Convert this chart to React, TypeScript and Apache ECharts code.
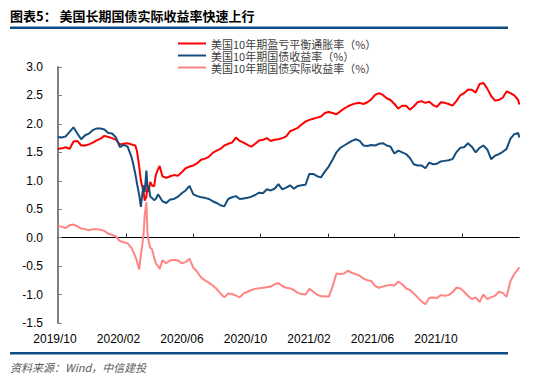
import React, { useEffect, useRef } from "react";
import * as echarts from "echarts";

const TITLE = "图表5： 美国长期国债实际收益率快速上行";
const SOURCE = "资料来源：Wind，中信建投";
const SERIES_NAMES = [
  "美国10年期盈亏平衡通胀率（%）",
  "美国10年期国债收益率（%）",
  "美国10年期国债实际收益率（%）",
];
const X_LABELS = ["2019/10", "2020/02", "2020/06", "2020/10", "2021/02", "2021/06", "2021/10", ""];
const TICK_DATES = ["2020-02-01", "2020-06-01", "2020-10-01", "2021-02-01", "2021-06-01", "2021-10-01"];
const X_MIN = "2019-10-01";
const X_MAX = "2022-01-13";

const DATES = [
  "2019-10-01", "2019-10-08", "2019-10-15", "2019-10-22", "2019-10-29", "2019-11-05", "2019-11-12", "2019-11-19",
  "2019-11-26", "2019-12-03", "2019-12-10", "2019-12-17", "2019-12-24", "2019-12-31", "2020-01-07", "2020-01-14",
  "2020-01-21", "2020-01-28", "2020-02-04", "2020-02-11", "2020-02-14", "2020-02-18", "2020-02-21", "2020-02-25",
  "2020-02-28", "2020-03-02", "2020-03-04", "2020-03-06", "2020-03-09", "2020-03-11", "2020-03-13", "2020-03-16",
  "2020-03-19", "2020-03-23", "2020-03-26", "2020-03-30", "2020-04-02", "2020-04-07", "2020-04-14", "2020-04-21",
  "2020-04-28", "2020-05-05", "2020-05-12", "2020-05-19", "2020-05-26", "2020-06-02", "2020-06-09", "2020-06-16",
  "2020-06-23", "2020-06-30", "2020-07-07", "2020-07-14", "2020-07-21", "2020-07-28", "2020-08-04", "2020-08-11",
  "2020-08-18", "2020-08-25", "2020-09-01", "2020-09-08", "2020-09-15", "2020-09-22", "2020-09-29", "2020-10-06",
  "2020-10-13", "2020-10-20", "2020-10-27", "2020-11-03", "2020-11-10", "2020-11-17", "2020-11-24", "2020-12-01",
  "2020-12-08", "2020-12-15", "2020-12-22", "2020-12-29", "2021-01-05", "2021-01-12", "2021-01-19", "2021-01-26",
  "2021-02-02", "2021-02-09", "2021-02-16", "2021-02-23", "2021-03-02", "2021-03-09", "2021-03-16", "2021-03-23",
  "2021-03-30", "2021-04-06", "2021-04-13", "2021-04-20", "2021-04-27", "2021-05-04", "2021-05-11", "2021-05-18",
  "2021-05-25", "2021-06-01", "2021-06-08", "2021-06-15", "2021-06-22", "2021-06-29", "2021-07-06", "2021-07-13",
  "2021-07-20", "2021-07-27", "2021-08-03", "2021-08-10", "2021-08-17", "2021-08-24", "2021-08-31", "2021-09-07",
  "2021-09-14", "2021-09-21", "2021-09-28", "2021-10-05", "2021-10-12", "2021-10-19", "2021-10-26", "2021-11-02",
  "2021-11-09", "2021-11-16", "2021-11-23", "2021-11-30", "2021-12-07", "2021-12-14", "2021-12-21", "2021-12-28",
  "2022-01-04", "2022-01-11", "2022-01-13",
];

const BREAKEVEN = [
  1.56, 1.57, 1.59, 1.56, 1.69, 1.70, 1.62, 1.62,
  1.64, 1.67, 1.71, 1.74, 1.79, 1.77, 1.75, 1.72,
  1.64, 1.65, 1.66, 1.64, 1.63, 1.62, 1.52, 1.25,
  1.00, 0.88, 0.80, 0.65, 0.72, 0.90, 0.80, 0.98,
  0.92, 0.90, 1.10, 1.20, 1.26, 1.08, 1.05, 1.08,
  1.10, 1.09, 1.15, 1.22, 1.25, 1.27, 1.31, 1.37,
  1.39, 1.42, 1.49, 1.53, 1.56, 1.62, 1.65, 1.67,
  1.76, 1.70, 1.67, 1.63, 1.60, 1.65, 1.71, 1.72,
  1.75, 1.70, 1.72, 1.73, 1.75, 1.78, 1.87, 1.90,
  1.93, 1.99, 2.04, 2.07, 2.09, 2.11, 2.13, 2.19,
  2.21, 2.19, 2.17, 2.22, 2.27, 2.31, 2.34, 2.36,
  2.37, 2.35, 2.38, 2.43, 2.51, 2.54, 2.51, 2.45,
  2.42, 2.35, 2.27, 2.32, 2.32, 2.25, 2.31, 2.38,
  2.40, 2.37, 2.39, 2.33, 2.30, 2.38, 2.37, 2.35,
  2.32, 2.40, 2.50, 2.54, 2.60, 2.60, 2.55, 2.70,
  2.72, 2.62, 2.49, 2.41, 2.42, 2.46, 2.57, 2.54,
  2.50, 2.42, 2.34,
];

const NOMINAL = [
  1.77, 1.76, 1.78, 1.86, 1.94, 1.83, 1.73, 1.80,
  1.83, 1.89, 1.92, 1.92, 1.90, 1.84, 1.83, 1.76,
  1.59, 1.63, 1.60, 1.42, 1.30, 1.12, 0.95, 0.75,
  0.54, 0.80, 0.92, 0.80, 1.18, 0.88, 0.92, 0.72,
  0.70, 0.66, 0.68, 0.76, 0.72, 0.64, 0.61, 0.67,
  0.68, 0.72, 0.78, 0.83, 0.91, 0.76, 0.73, 0.71,
  0.70, 0.68, 0.64, 0.61, 0.57, 0.55, 0.68, 0.71,
  0.73, 0.68, 0.69, 0.70, 0.72, 0.75, 0.79, 0.78,
  0.85, 0.83, 0.86, 0.94, 0.85, 0.88, 0.92, 0.86,
  0.91, 0.92, 0.93, 1.12, 1.12, 1.08, 1.06, 1.16,
  1.25, 1.37, 1.50, 1.58, 1.62, 1.66, 1.70, 1.73,
  1.70, 1.62, 1.61, 1.63, 1.62, 1.65, 1.66, 1.62,
  1.60, 1.48, 1.53, 1.50, 1.47, 1.40, 1.29, 1.27,
  1.27, 1.22, 1.32, 1.29, 1.30, 1.34, 1.35, 1.36,
  1.38, 1.50, 1.58, 1.59, 1.66, 1.60, 1.50, 1.58,
  1.62, 1.55, 1.38, 1.44, 1.47, 1.51, 1.56, 1.74,
  1.82, 1.84, 1.76,
];

const REAL = [
  0.21, 0.19, 0.17, 0.22, 0.23, 0.20, 0.16, 0.15,
  0.13, 0.15, 0.15, 0.14, 0.12, 0.07, 0.05, 0.02,
  -0.06, -0.08, -0.10, -0.18, -0.24, -0.33, -0.42, -0.56,
  -0.30, -0.10, 0.08, 0.40, 0.62, 0.08, -0.05, -0.18,
  -0.20, -0.35, -0.45, -0.50, -0.55, -0.40, -0.45, -0.40,
  -0.39, -0.40, -0.45, -0.43, -0.37, -0.53, -0.60, -0.70,
  -0.75, -0.79, -0.84, -0.90, -0.98, -1.05, -0.98, -0.99,
  -1.02, -1.05, -0.98, -0.95, -0.92, -0.90, -0.89, -0.88,
  -0.87, -0.86, -0.82, -0.80, -0.85, -0.88, -0.89, -0.92,
  -0.97, -0.99, -1.00, -0.90, -0.95, -1.00, -1.03, -1.03,
  -1.04, -0.86, -0.63, -0.64, -0.63, -0.58, -0.62, -0.64,
  -0.67, -0.72, -0.75, -0.76, -0.85, -0.88, -0.86, -0.84,
  -0.83, -0.84, -0.77, -0.82, -0.89, -0.92, -0.98, -1.05,
  -1.12, -1.17, -1.06, -1.05, -1.06, -1.01, -1.02, -1.01,
  -0.96, -0.88, -0.89, -0.95, -1.02, -1.08, -1.05, -1.13,
  -1.00, -1.08, -1.05, -1.02, -0.95, -0.97, -1.04, -0.76,
  -0.64, -0.55, -0.52,
];

const COLORS = ["#FF0000", "#154E7D", "#FF8585"];

function toTs(s: string): number {
  const [y, m, d] = s.split("-").map(Number);
  return new Date(y, m - 1, d).getTime();
}

export default function App() {
  const ref = useRef<HTMLDivElement>(null);

  useEffect(() => {
    if (!ref.current) return;
    const chart = echarts.init(ref.current, null, { renderer: "svg" });
    const pair = (vals: number[]) => DATES.map((d, i) => [toTs(d), vals[i]]);
    const seriesData = [BREAKEVEN, NOMINAL, REAL];

    chart.setOption({
      animation: false,
      backgroundColor: "#ffffff",
      textStyle: { fontFamily: "'Liberation Sans', Arial, sans-serif" },
      legend: {
        orient: "vertical",
        left: 173,
        top: 32.5,
        itemGap: 0,
        itemWidth: 28,
        itemHeight: 2,
        icon: "rect",
        data: SERIES_NAMES,
        textStyle: {
          fontSize: 11,
          lineHeight: 12,
          color: "#404040",
          fontFamily: "'Noto Sans CJK SC', sans-serif",
        },
      },
      grid: [
        { left: 58, right: 34.7, top: 67, bottom: 58, containLabel: false },
        { left: 55, width: 444.5, top: 320, height: 5, containLabel: false },
      ],
      xAxis: [
        {
          type: "time",
          gridIndex: 0,
          min: toTs(X_MIN),
          max: toTs(X_MAX),
          axisLine: { onZero: true, lineStyle: { color: "#000000", width: 1 } },
          axisTick: {
            show: true,
            inside: true,
            length: 4,
            customValues: TICK_DATES.map(toTs),
            lineStyle: { color: "#333333" },
          },
          axisLabel: { show: false },
          splitLine: { show: false },
        },
        {
          type: "category",
          gridIndex: 1,
          boundaryGap: false,
          data: X_LABELS,
          axisLine: { show: false },
          axisTick: { show: false },
          axisLabel: {
            interval: 0,
            margin: 8,
            fontSize: 12,
            color: "#000000",
            fontFamily: "'Liberation Sans', Arial, sans-serif",
          },
          splitLine: { show: false },
        },
      ],
      yAxis: [
        {
          type: "value",
          gridIndex: 0,
          min: -1.5,
          max: 3.0,
          interval: 0.5,
          axisLine: { show: true, lineStyle: { color: "#808080", width: 2 } },
          axisTick: { show: true, inside: true, length: 4, lineStyle: { color: "#808080" } },
          axisLabel: {
            margin: 15,
            fontSize: 12,
            color: "#000000",
            fontFamily: "'Liberation Sans', Arial, sans-serif",
            formatter: (v: number) => v.toFixed(1),
          },
          splitLine: { show: false },
        },
        { type: "value", gridIndex: 1, show: false, min: 0, max: 1 },
      ],
      series: SERIES_NAMES.map((name, i) => ({
        name,
        type: "line",
        xAxisIndex: 0,
        yAxisIndex: 0,
        data: pair(seriesData[i]),
        symbol: "none",
        showSymbol: false,
        z: i === 2 ? 1 : 2,
        lineStyle: { color: COLORS[i], width: 2 },
        itemStyle: { color: COLORS[i] },
      })),
      graphic: [
        {
          type: "text",
          left: 10,
          top: 9,
          style: {
            text: TITLE,
            fontSize: 13,
            fontWeight: "bold",
            fill: "#000000",
            fontFamily: "'Noto Sans CJK SC', sans-serif",
          },
        },
        { type: "rect", shape: { x: 10, y: 26.5, width: 498, height: 2.5 }, style: { fill: "#0E4D84" } },
        { type: "rect", shape: { x: 10, y: 352, width: 498, height: 2.5 }, style: { fill: "#0E4D84" } },
        {
          type: "text",
          left: 10,
          top: 361,
          style: {
            text: SOURCE,
            fontSize: 11,
            fontStyle: "italic",
            fill: "#595959",
            fontFamily: "'Noto Sans CJK SC', sans-serif",
          },
        },
      ],
    });

    return () => chart.dispose();
  }, []);

  return (
    <div
      ref={ref}
      style={{ position: "fixed", left: 0, top: 0, width: 554, height: 381, background: "#ffffff" }}
    />
  );
}
